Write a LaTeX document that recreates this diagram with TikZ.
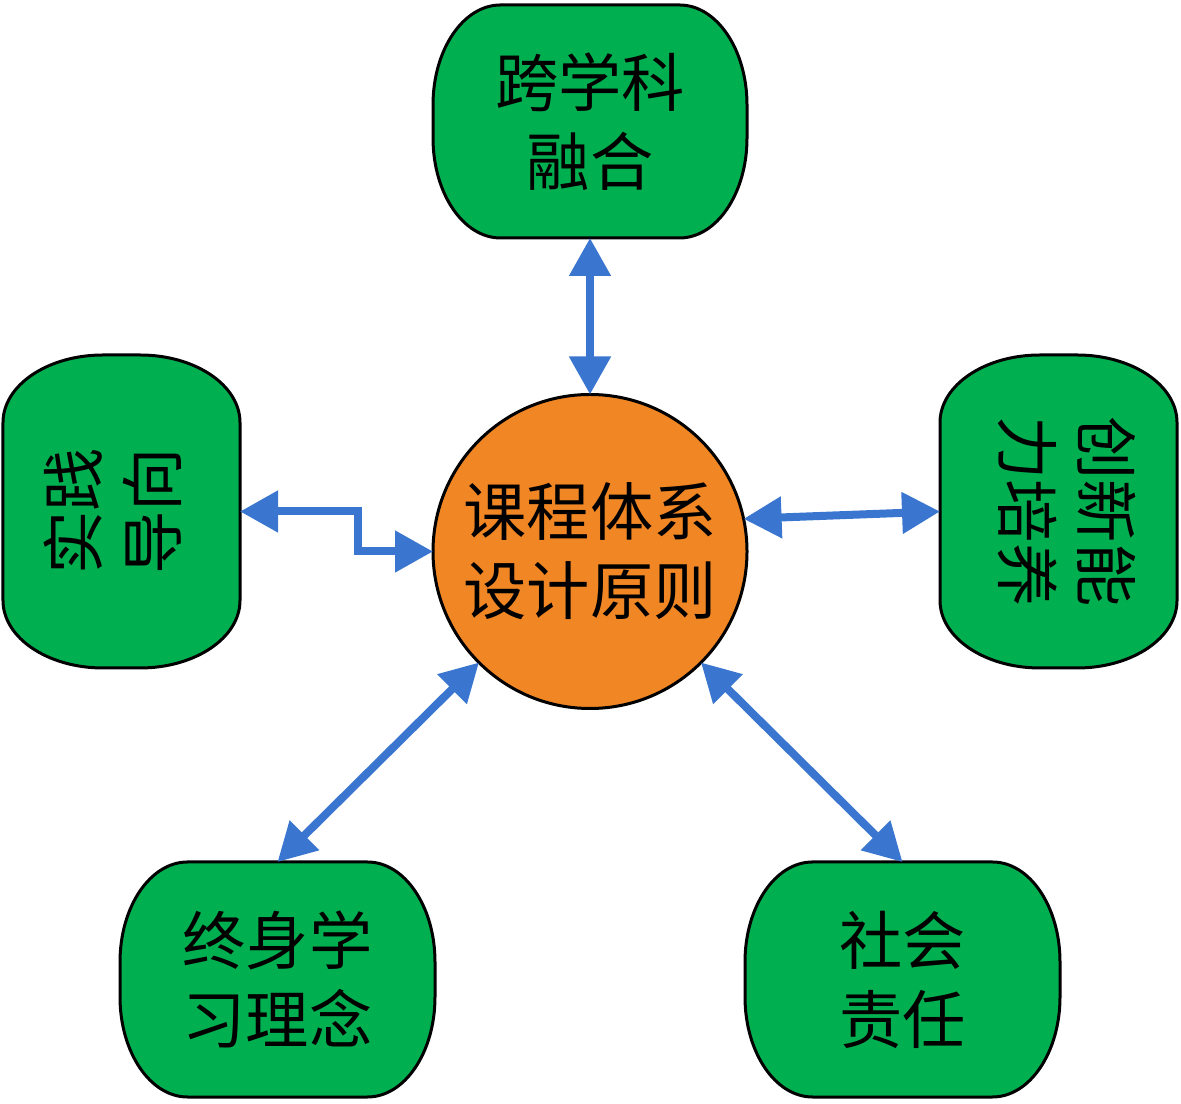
\documentclass[tikz,border=0pt]{standalone}
\usepackage{fontspec}
\newfontfamily\cjk{Noto Sans CJK SC}
\usetikzlibrary{arrows.meta,backgrounds}

\definecolor{verde}{RGB}{0,176,80}
\definecolor{naranja}{RGB}{240,134,36}
\definecolor{azul}{RGB}{58,118,208}

\tikzset{
  caja/.style={rectangle, inner sep=0pt, outer sep=0pt, align=center,
    font=\cjk\fontsize{36}{45}\selectfont},
  borde/.style={fill=verde, draw=black, line width=0.06cm},
  flecha/.style={azul, line width=0.16cm,
    {Triangle[length=0.76cm,width=0.8cm]}-{Triangle[length=0.76cm,width=0.8cm]}},
}

\begin{document}
\begin{tikzpicture}
    \useasboundingbox (0,0) rectangle (23.62,22.06);

    % Centro
    \node[circle, minimum size=6.28cm, inner sep=0pt, outer sep=0pt, fill=naranja,
          draw=black, line width=0.06cm, align=center,
          font=\cjk\fontsize{36}{45}\selectfont] (circ) at (11.80,11.03)
          {课程体系\\设计原则};

    % Cajas
    \node[caja, minimum width=6.28cm, minimum height=4.66cm] (kx) at (11.80,19.63)
          {跨学科\\融合};
    \node[caja, minimum width=4.74cm, minimum height=6.26cm] (sj) at (2.43,11.83)
          {\rotatebox{90}{\begin{tabular}{@{}c@{}}实践\\导向\end{tabular}}};
    \node[caja, minimum width=4.74cm, minimum height=6.26cm] (cx) at (21.17,11.83)
          {\rotatebox{-90}{\begin{tabular}{@{}c@{}}创新能\\力培养\end{tabular}}};
    \node[caja, minimum width=6.30cm, minimum height=4.70cm] (zs) at (5.55,2.47)
          {终身学\\习理念};
    \node[caja, minimum width=6.30cm, minimum height=4.70cm] (sh) at (18.05,2.47)
          {社会\\责任};

    % Fondo de las cajas
    \begin{scope}[on background layer]
      \foreach \n/\rx/\ry in {kx/1.35/2.0, zs/1.35/2.0, sh/1.35/2.0, sj/2.0/1.35, cx/2.0/1.35}
        \filldraw[borde] ([xshift=\rx cm]\n.north west) -- ([xshift=-\rx cm]\n.north east)
          arc[start angle=90, end angle=0, x radius=\rx, y radius=\ry]
          -- ([yshift=\ry cm]\n.south east)
          arc[start angle=0, end angle=-90, x radius=\rx, y radius=\ry]
          -- ([xshift=\rx cm]\n.south west)
          arc[start angle=-90, end angle=-180, x radius=\rx, y radius=\ry]
          -- ([yshift=-\ry cm]\n.north west)
          arc[start angle=180, end angle=90, x radius=\rx, y radius=\ry] -- cycle;
    \end{scope}

    % Flechas
    \draw[flecha] (kx.south) -- (circ.north);
    \draw[flecha] (circ.12.7) -- (cx.west);
    \draw[flecha] (sj.east) -- ++(2.36,0) |- (circ.west);
    \draw[flecha] (circ.225) -- (zs.north);
    \draw[flecha] (circ.-45) -- (sh.north);
\end{tikzpicture}
\end{document}
